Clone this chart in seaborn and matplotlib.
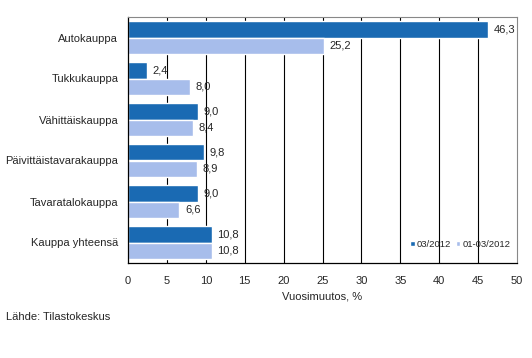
import matplotlib
matplotlib.use("Agg")
import matplotlib.pyplot as plt
import seaborn as sns
import pandas as pd

categories = ["Autokauppa", "Tukkukauppa", "Vähittäiskauppa", "Päivittäistavarakauppa",
              "Tavaratalokauppa", "Kauppa yhteensä"]
series_names = ["03/2012", "01-03/2012"]
values_03 = [46.3, 2.4, 9.0, 9.8, 9.0, 10.8]
values_0103 = [25.2, 8.0, 8.4, 8.9, 6.6, 10.8]
xticks = list(range(0, 55, 5))

df = pd.DataFrame({
    "cat": categories * 2,
    "series": [series_names[0]] * len(categories) + [series_names[1]] * len(categories),
    "val": values_03 + values_0103,
})

sns.set_style("white")
plt.rcParams['font.family'] = ['Liberation Sans', 'DejaVu Sans']

fs = 8.0
fig = plt.figure(figsize=(5.32, 3.58), dpi=100)
ax = fig.add_axes([128/532, 1-263/358, (517-128)/532, (263-17)/358])
colors = ["#1a6ab3", "#a7bdeb"]
sns.barplot(data=df, y="cat", x="val", hue="series", orient="h", palette=colors,
            ax=ax, width=0.8, saturation=1, order=categories, hue_order=series_names)

for c in ax.containers:
    ax.bar_label(c, labels=[f"{v:.1f}".replace(".", ",") for v in c.datavalues],
                 padding=4, fontsize=fs)

ax.set_xlim(0, 50)
ax.set_xticks(xticks)
ax.set_xticklabels([str(t) for t in xticks], fontsize=fs)
ax.tick_params(axis="x", direction="out", length=4, color="black", width=0.8, pad=5)
ax.tick_params(axis="y", length=0, labelsize=fs, pad=7)
ax.set_ylabel("")
ax.set_xlabel("Vuosimuutos, %", fontsize=fs, labelpad=4)
for x in xticks[1:-1]:
    ax.axvline(x, color="black", lw=0.8, zorder=0)
ax.set_axisbelow(True)
for s in ["left", "bottom"]:
    ax.spines[s].set_color("black")
    ax.spines[s].set_linewidth(0.9)
for s in ["top", "right"]:
    ax.spines[s].set_color("#888888")
    ax.spines[s].set_linewidth(0.8)

leg = ax.legend(loc="lower right", fontsize=6.8, frameon=False, ncol=2, handlelength=0.5,
                handleheight=0.5, handletextpad=0.2, columnspacing=0.5,
                bbox_to_anchor=(1.0, 0.03), borderaxespad=0.3)

fig.text(6/532, 1-317/358, "Lähde: Tilastokeskus", fontsize=fs, va="center", ha="left")
fig.savefig("out.png", dpi=100)
